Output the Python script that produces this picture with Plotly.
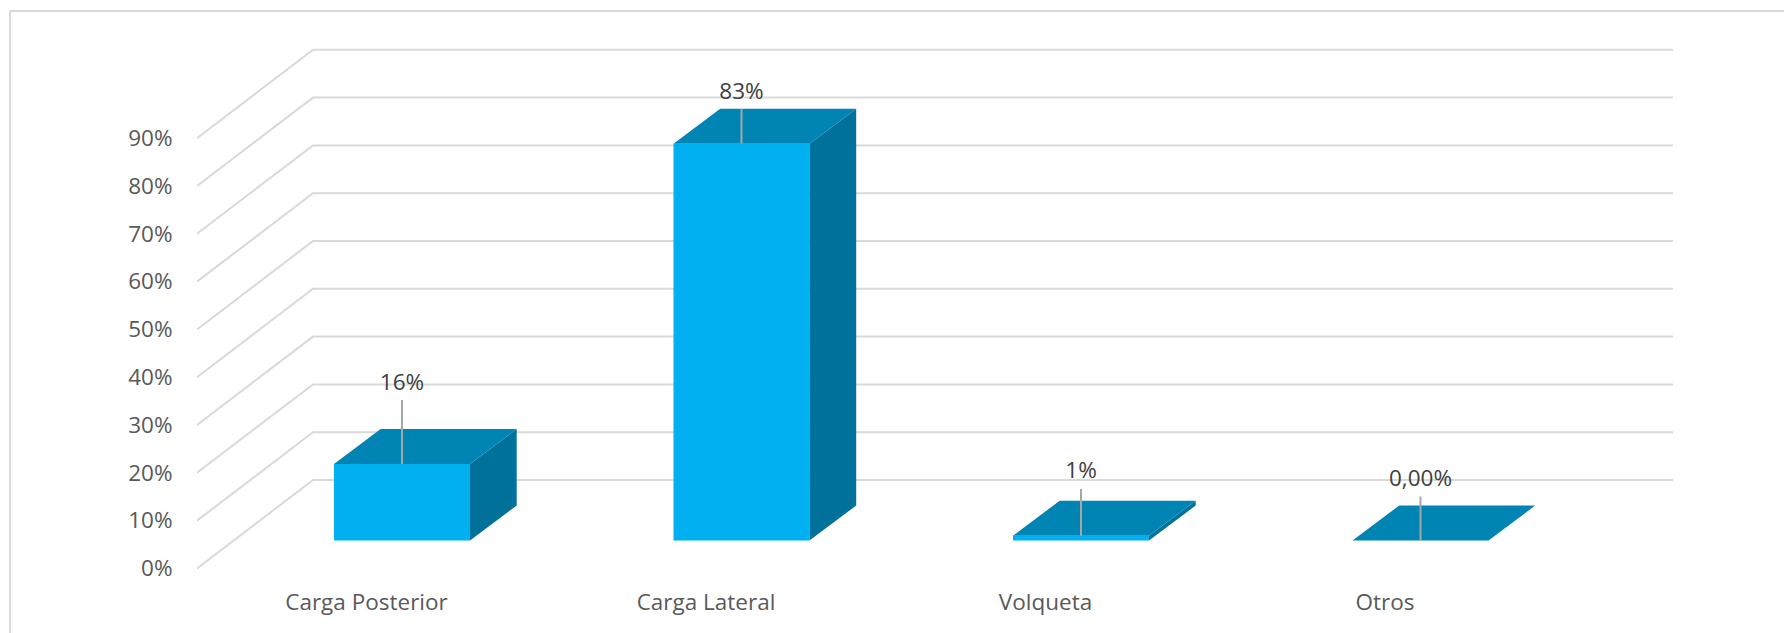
import plotly.graph_objects as go

categories = ["Carga Posterior", "Carga Lateral", "Volqueta", "Otros"]
values = [16, 83, 1, 0]
value_labels = ["16%", "83%", "1%", "0,00%"]
tick_values = [0, 10, 20, 30, 40, 50, 60, 70, 80, 90]
tick_labels = ["0%", "10%", "20%", "30%", "40%", "50%", "60%", "70%", "80%", "90%"]
leader_lengths = [13.4, 7.3, 9.8, 9.2]
label_gaps = [3.3, 3.3, 3.4, 3.4]

W, H = 1784, 633
L, R, T, B = 197, 1673, 40, 578
PX_X = 339.5      # pixels per category
PX_Y = 4.78       # pixels per percent
X0_PX, Y0_PX = 402, 540.5   # where category 0 / value 0 fall

bar_w = 136 / PX_X
bar_dx, bar_dy = 46.7 / PX_X, 35 / PX_Y
wall_front, wall_back = (Y0_PX - 568.4) / PX_Y, (Y0_PX - 480) / PX_Y
xl = (L - X0_PX) / PX_X
xb = (313 - X0_PX) / PX_X
xr = (R - X0_PX) / PX_X

GRID, AXIS_TXT, LABEL_TXT = "#D9D9D9", "#595959", "#404040"
FRONT, TOP, SIDE, LEADER = "#00B0F0", "#0084B4", "#00719B", "#A6A6A6"
FONT = "Open Sans"

fig = go.Figure()
for t in tick_values:
    fig.add_shape(type="path", xref="x", yref="y", layer="below",
                  path=f"M {xl} {t + wall_front} L {xb} {t + wall_back} L {xr} {t + wall_back}",
                  line=dict(color=GRID, width=2))

fig.add_trace(go.Bar(x=list(range(4)), y=values, width=bar_w, marker=dict(color=FRONT, line_width=0), hoverinfo="skip"))

for i, v in enumerate(values):
    a, b = i - bar_w / 2, i + bar_w / 2
    fig.add_trace(go.Scatter(x=[b, b + bar_dx, b + bar_dx, b, b], y=[0, bar_dy, v + bar_dy, v, 0],
                             mode="lines", fill="toself", fillcolor=SIDE, line=dict(width=0), hoverinfo="skip"))
    fig.add_trace(go.Scatter(x=[a, b, b + bar_dx, a + bar_dx, a], y=[v, v, v + bar_dy, v + bar_dy, v],
                             mode="lines", fill="toself", fillcolor=TOP, line=dict(width=0), hoverinfo="skip"))
    fig.add_trace(go.Scatter(x=[i, i], y=[v, v + leader_lengths[i]], mode="lines",
                             line=dict(color=LEADER, width=2), hoverinfo="skip"))
    fig.add_trace(go.Scatter(x=[i], y=[v + leader_lengths[i] + label_gaps[i]], mode="text",
                             text=[value_labels[i]], textposition="middle center",
                             textfont=dict(family=FONT, size=22.5, color=LABEL_TXT), hoverinfo="skip"))

border_x = (10 - L) / (R - L)
border_y = (B - 11) / (B - T)
fig.add_shape(type="line", xref="paper", yref="paper", x0=border_x, x1=border_x, y0=-0.2, y1=border_y,
              line=dict(color=GRID, width=2))
fig.add_shape(type="line", xref="paper", yref="paper", x0=border_x, x1=(W - L) / (R - L), y0=border_y, y1=border_y,
              line=dict(color=GRID, width=2))

fig.update_layout(
    width=W, height=H, showlegend=False, plot_bgcolor="rgba(0,0,0,0)", paper_bgcolor="white",
    margin=dict(l=L, r=W - R, t=T, b=H - B),
    xaxis=dict(range=[xl, xr], tickmode="array", tickvals=[i - 35.5 / PX_X for i in range(4)], ticktext=categories,
               showgrid=False, zeroline=False, showline=False, ticks="outside", ticklen=4, tickcolor="rgba(0,0,0,0)",
               tickfont=dict(family=FONT, size=22.5, color=AXIS_TXT)),
    yaxis=dict(range=[(Y0_PX - B) / PX_Y, (Y0_PX - T) / PX_Y], tickmode="array",
               tickvals=[t + wall_front for t in tick_values], ticktext=tick_labels,
               showgrid=False, zeroline=False, showline=False, ticks="outside", ticklen=19, tickcolor="rgba(0,0,0,0)",
               tickfont=dict(family=FONT, size=22.5, color=AXIS_TXT)),
)
fig.write_html("out.html", post_script="document.body.style.margin='0';", config=dict(displayModeBar=False))
